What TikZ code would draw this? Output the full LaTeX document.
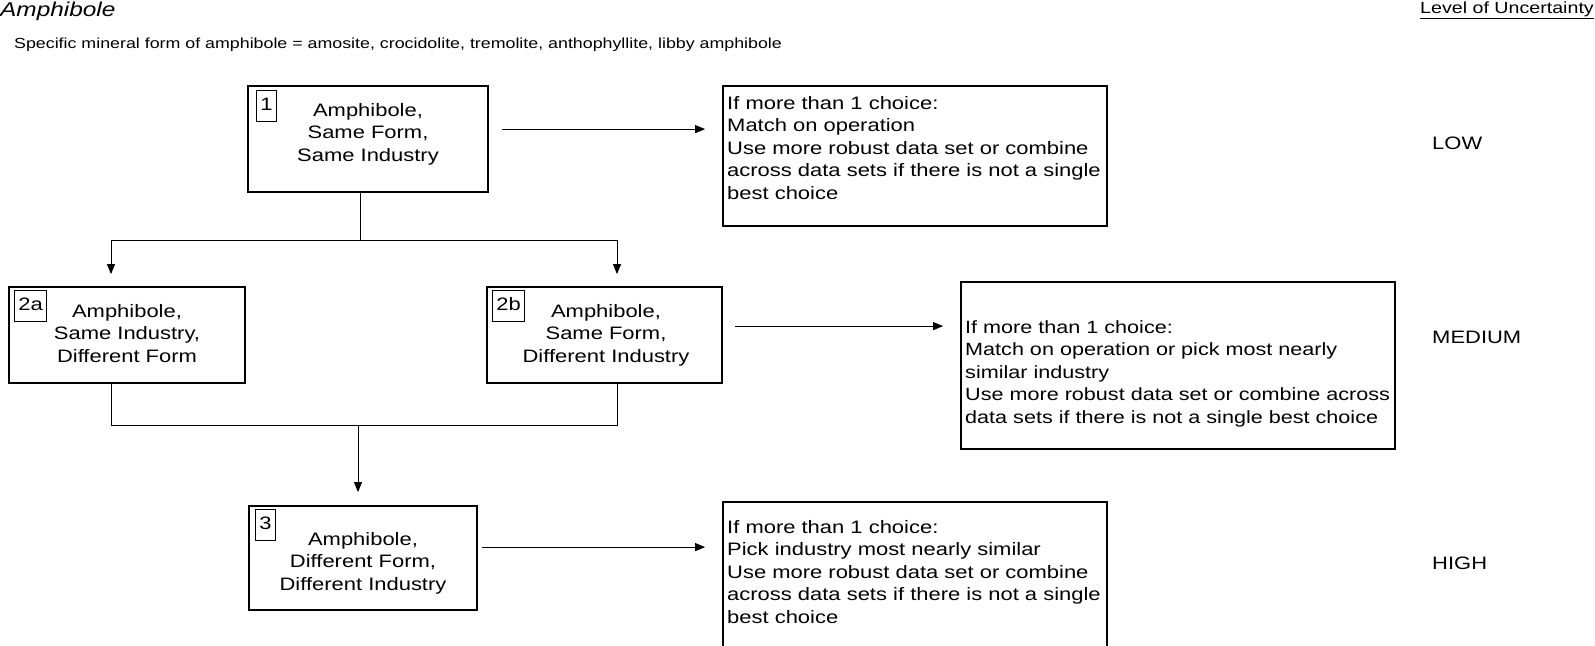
\documentclass[tikz,border=0pt]{standalone}
\usepackage{fontspec}
\setmainfont{Liberation Sans}[FakeStretch=1.22]
\usetikzlibrary{arrows.meta,calc}
\begin{document}
\begin{tikzpicture}[x=1pt,y=-1pt,
  bigbox/.style={draw,line width=1.8pt,inner sep=0pt},
  numbox/.style={draw,line width=0.9pt,anchor=north west,inner xsep=4pt,inner ysep=0pt,text height=20pt,text depth=11pt,font=\fontsize{18}{22.4}\selectfont},
  ctxt/.style={align=center,anchor=base,inner sep=0pt,font=\fontsize{18}{22.4}\selectfont},
  ltxt/.style={align=left,anchor=base west,inner sep=0pt,font=\fontsize{18}{22.4}\selectfont},
  lvl/.style={anchor=west,inner sep=0pt,font=\fontsize{18}{22}\selectfont},
  conn/.style={line width=1pt},
  arr/.style={line width=1pt,-{Triangle[length=10pt,width=8pt]}}
]
\useasboundingbox (0,0) rectangle (1595,645);
\clip (0,0) rectangle (1595,645);

\node[anchor=west,inner sep=0pt,font=\fontsize{20}{22}\selectfont\itshape] (title) at (0,11) {Amphibole};
\node[anchor=west,inner sep=0pt,font=\fontsize{14.6}{18}\selectfont] (sub) at (14,45) {Specific mineral form of amphibole = amosite, crocidolite, tremolite, anthophyllite, libby amphibole};
\node[anchor=east,inner sep=0pt,font=\fontsize{16.1}{18}\selectfont] (lou) at (1594,10) {\underline{Level of Uncertainty}};

% row 1
\node[bigbox,minimum width=240pt,minimum height=106pt] (b1) at (368,139) {};
\node[numbox] (n1) at (256,90) {1};
\node[ctxt] (t1) at (368,161) {Amphibole,\\Same Form,\\Same Industry};
\node[bigbox,minimum width=384pt,minimum height=140pt] (low) at (915,156) {};
\node[ltxt] (lowt) at (727,199) {If more than 1 choice:\\Match on operation\\Use more robust data set or combine\\across data sets if there is not a single\\best choice};

% row 2
\node[bigbox,minimum width=236pt,minimum height=96pt] (b2a) at (127,335) {};
\node[numbox] (n2a) at (14,290) {2a};
\node[ctxt] (t2a) at (127,362) {Amphibole,\\Same Industry,\\Different Form};
\node[bigbox,minimum width=235pt,minimum height=96pt] (b2b) at (604.5,335) {};
\node[numbox] (n2b) at (492,290) {2b};
\node[ctxt] (t2b) at (606,362) {Amphibole,\\Same Form,\\Different Industry};
\node[bigbox,minimum width=434pt,minimum height=167pt] (med) at (1178,365.5) {};
\node[ltxt,font=\fontsize{17.7}{22.4}\selectfont] (medt) at (965,423.1) {If more than 1 choice:\\Match on operation or pick most nearly\\similar industry\\Use more robust data set or combine across\\data sets if there is not a single best choice};

% row 3
\node[bigbox,minimum width=228pt,minimum height=104pt] (b3) at (363,558) {};
\node[numbox] (n3) at (255,509) {3};
\node[ctxt] (t3) at (363,590) {Amphibole,\\Different Form,\\Different Industry};
\node[bigbox,minimum width=384pt,minimum height=178pt] (high) at (915,591) {};
\node[ltxt] (hight) at (727,623.1) {If more than 1 choice:\\Pick industry most nearly similar\\Use more robust data set or combine\\across data sets if there is not a single\\best choice};

% levels
\node[lvl] (lvlow) at (1432,143) {LOW};
\node[lvl] (lvmed) at (1432,337) {MEDIUM};
\node[lvl] (lvhigh) at (1432,563) {HIGH};

% connectors
\draw[arr] ($(b1.north east)+(13,44)$) -- ($(low.north west)+(-17,44)$);
\coordinate (split) at (360,240);
\draw[conn] (b1.south -| split) -- (split);
\draw[arr] (split) -| ($(b2a.north)+(-16,-12)$);
\draw[arr] (split) -| ($(b2b.north)+(12.5,-12)$);
\coordinate (join) at (358,425);
\draw[conn] ($(b2a.south)+(-16,0)$) |- (join);
\draw[conn] ($(b2b.south)+(12.5,0)$) |- (join);
\draw[arr] (join) -- ($(b3.north)+(-5,-13)$);
\draw[arr] ($(b2b.north east)+(12,40)$) -- ($(med.north west)+(-17,45)$);
\draw[arr] ($(b3.north east)+(4,42)$) -- ($(high.north west)+(-17,46)$);
\end{tikzpicture}
\end{document}
